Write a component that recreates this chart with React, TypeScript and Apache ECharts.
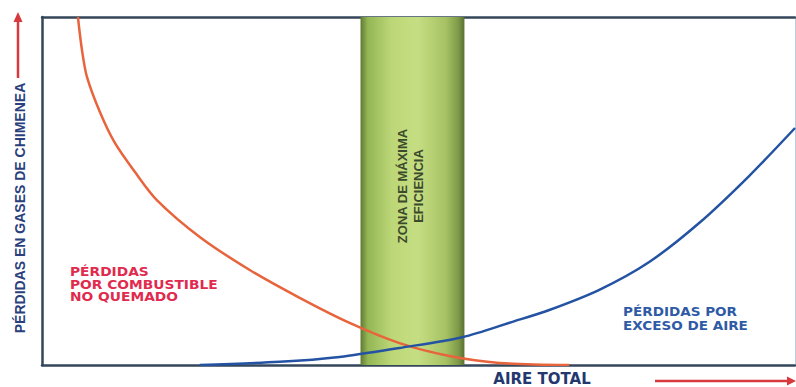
import React, { useEffect, useRef } from "react";
import * as echarts from "echarts";

// Loss curves: [air %, losses %] on a 0–100 scale
const unburnedFuelLosses: [number, number][] = [
  [4.77, 100], [5.31, 90.5], [5.97, 82.8], [7.69, 72.7], [9.68, 63.8], [12.33, 55.5],
  [15.25, 47.4], [20.95, 36.8], [27.59, 27.3], [34.22, 19.3], [40.85, 12.1],
  [47.48, 6.3], [54.11, 2.6], [60.74, 0.6], [70.0, 0],
];
const excessAirLosses: [number, number][] = [
  [20.95, 0], [31.56, 0.9], [39.52, 2.3], [47.48, 4.9], [55.84, 8.0], [62.47, 12.4],
  [67.37, 15.8], [74.01, 21.6], [80.64, 29.6], [87.27, 40.8], [93.9, 54.3], [100, 68.1],
];
const efficiencyZone: [number, number] = [42.3, 56.1];

const yTitle = "PÉRDIDAS EN GASES DE CHIMENEA";
const xTitle = "AIRE TOTAL";
const zoneLabel = "ZONA DE MÁXIMA\nEFICIENCIA";
const fuelLabel = "PÉRDIDAS\nPOR COMBUSTIBLE\nNO QUEMADO";
const airLabel = "PÉRDIDAS POR\nEXCESO DE AIRE";

export default function App() {
  const ref = useRef<HTMLDivElement>(null);
  useEffect(() => {
    if (!ref.current) return;
    const chart = echarts.init(ref.current, null, { renderer: "svg" });
    const hidden = {
      axisLabel: { show: false },
      axisTick: { show: false },
      splitLine: { show: false },
    };
    const borderLine = { show: true, onZero: false, lineStyle: { color: "#33465a", width: 2.5 } };
    chart.setOption({
      animation: false,
      backgroundColor: "#ffffff",
      grid: { left: 42, right: 1, top: 17, bottom: 22 },
      xAxis: [
        { type: "value", min: 0, max: 100, position: "bottom", axisLine: borderLine, ...hidden },
        { type: "value", min: 0, max: 100, position: "top", axisLine: borderLine, ...hidden },
      ],
      yAxis: [
        { type: "value", min: 0, max: 100, position: "left", axisLine: borderLine, ...hidden },
        {
          type: "value", min: 0, max: 100, position: "right",
          axisLine: { show: true, onZero: false, lineStyle: { color: "#b9cde2", width: 1 } }, ...hidden,
        },
      ],
      series: [
        {
          type: "line",
          data: [],
          markArea: {
            silent: true,
            itemStyle: {
              color: new echarts.graphic.LinearGradient(0, 0, 1, 0, [
                { offset: 0, color: "#5f7a34" },
                { offset: 0.07, color: "#94b654" },
                { offset: 0.3, color: "#bcd777" },
                { offset: 0.55, color: "#c6de83" },
                { offset: 0.82, color: "#a6c263" },
                { offset: 0.94, color: "#7f9a48" },
                { offset: 1, color: "#5a7031" },
              ]),
            },
            data: [[{ xAxis: efficiencyZone[0], yAxis: 0 }, { xAxis: efficiencyZone[1], yAxis: 100 }]],
          },
        },
        {
          type: "line",
          name: "combustible",
          data: unburnedFuelLosses,
          smooth: 0.3,
          showSymbol: false,
          lineStyle: { color: "#e8643c", width: 2.5 },
          z: 3,
        },
        {
          type: "line",
          name: "aire",
          data: excessAirLosses,
          smooth: 0.3,
          showSymbol: false,
          lineStyle: { color: "#2453a3", width: 2.5 },
          z: 4,
        },
      ],
      graphic: [
        {
          type: "text",
          x: 410,
          y: 186,
          z: 100,
          rotation: Math.PI / 2,
          style: {
            text: zoneLabel,
            fill: "#3c4a2c",
            font: "bold 13px 'Liberation Sans Narrow', 'Liberation Sans', sans-serif",
            align: "center",
            verticalAlign: "middle",
            lineHeight: 16,
          },
        },
        {
          type: "text",
          x: 20,
          y: 208,
          z: 100,
          rotation: Math.PI / 2,
          style: {
            text: yTitle,
            fill: "#2b3f7c",
            font: "bold 14px 'Liberation Sans Narrow', 'Liberation Sans', sans-serif",
            align: "center",
            verticalAlign: "middle",
          },
        },
        { type: "line", z: 100, shape: { x1: 18, y1: 78, x2: 18, y2: 20 }, style: { stroke: "#d8393f", lineWidth: 2.5 } },
        { type: "polygon", z: 100, shape: { points: [[13.5, 22], [22.5, 22], [18, 12]] }, style: { fill: "#d8393f" } },
        {
          type: "text",
          x: 542,
          y: 379,
          z: 100,
          style: {
            text: xTitle,
            fill: "#24386f",
            font: "bold 15px 'DejaVu Sans', sans-serif",
            align: "center",
            verticalAlign: "middle",
          },
        },
        { type: "line", z: 100, shape: { x1: 655, y1: 381, x2: 790, y2: 381 }, style: { stroke: "#d8393f", lineWidth: 2.5 } },
        { type: "polygon", z: 100, shape: { points: [[787, 376.5], [787, 385.5], [796, 381]] }, style: { fill: "#d8393f" } },
        {
          type: "text",
          x: 70,
          y: 266,
          z: 100,
          scaleX: 1.15,
          style: {
            text: fuelLabel,
            fill: "#e02a4e",
            font: "bold 12px 'DejaVu Sans', sans-serif",
            lineHeight: 12.5,
          },
        },
        {
          type: "text",
          x: 623,
          y: 305,
          z: 100,
          scaleX: 1.13,
          style: {
            text: airLabel,
            fill: "#2e5aa6",
            font: "bold 12px 'DejaVu Sans', sans-serif",
            lineHeight: 14,
          },
        },
      ],
    });
    return () => chart.dispose();
  }, []);
  return (
    <div
      ref={ref}
      style={{ position: "fixed", left: 0, top: 0, width: 796, height: 387 }}
    />
  );
}
